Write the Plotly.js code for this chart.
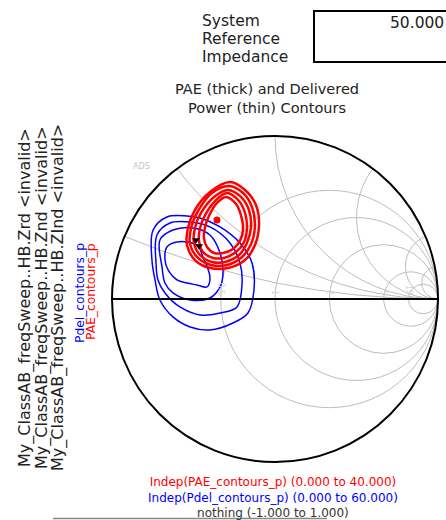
<!DOCTYPE html>
<html><head><meta charset="utf-8">
<script src="https://cdn.plot.ly/plotly-3.0.1.min.js"></script>
<style>html,body{margin:0;padding:0;background:#fff}</style>
</head><body>
<div id="chart" style="width:446px;height:520px"></div>
<script>
const paeLevels = [8, 16, 24, 32, 40];
const pae1_re = [-0.276,-0.184,-0.117,-0.098,-0.123,-0.184,-0.288,-0.399,-0.491,-0.540,-0.534,-0.491,-0.399,-0.276];
const pae1_im = [0.718,0.669,0.577,0.454,0.331,0.239,0.190,0.190,0.239,0.331,0.436,0.546,0.656,0.718];
const pae2_re = [-0.282,-0.196,-0.141,-0.123,-0.147,-0.202,-0.294,-0.393,-0.479,-0.521,-0.515,-0.472,-0.387,-0.282];
const pae2_im = [0.693,0.650,0.564,0.448,0.337,0.258,0.209,0.209,0.258,0.337,0.436,0.540,0.650,0.693];
const pae3_re = [-0.288,-0.209,-0.160,-0.147,-0.172,-0.221,-0.307,-0.387,-0.460,-0.497,-0.491,-0.454,-0.374,-0.288];
const pae3_im = [0.669,0.626,0.546,0.442,0.344,0.270,0.227,0.227,0.270,0.344,0.436,0.528,0.626,0.669];
const pae4_re = [-0.294,-0.221,-0.184,-0.172,-0.190,-0.239,-0.313,-0.380,-0.442,-0.466,-0.460,-0.429,-0.362,-0.294];
const pae4_im = [0.650,0.601,0.528,0.436,0.350,0.288,0.252,0.252,0.288,0.356,0.436,0.515,0.607,0.650];
const pae5_re = [-0.301,-0.239,-0.209,-0.196,-0.215,-0.258,-0.319,-0.374,-0.417,-0.436,-0.429,-0.405,-0.356,-0.301];
const pae5_im = [0.626,0.583,0.515,0.429,0.356,0.307,0.282,0.282,0.319,0.374,0.442,0.509,0.589,0.626];

const pdel1_re = [-0.748,-0.663,-0.540,-0.460,-0.337,-0.215,-0.141,-0.129,-0.166,-0.258,-0.399,-0.521,-0.626,-0.706,-0.736,-0.755,-0.748];
const pdel1_im = [0.423,0.503,0.509,0.497,0.442,0.344,0.221,0.055,-0.086,-0.147,-0.190,-0.172,-0.110,-0.006,0.117,0.239,0.423];
const pdel2_re = [-0.724,-0.644,-0.521,-0.399,-0.276,-0.215,-0.202,-0.233,-0.337,-0.460,-0.583,-0.675,-0.718,-0.730,-0.724];
const pdel2_im = [0.393,0.466,0.472,0.442,0.344,0.221,0.098,-0.049,-0.086,-0.098,-0.049,0.037,0.117,0.221,0.393];
const pdel3_re = [-0.706,-0.626,-0.503,-0.399,-0.337,-0.319,-0.337,-0.399,-0.521,-0.626,-0.675,-0.693,-0.706];
const pdel3_im = [0.362,0.423,0.436,0.393,0.282,0.160,0.074,0.006,-0.006,0.037,0.098,0.196,0.362];
const pdel4_re = [-0.663,-0.601,-0.479,-0.442,-0.399,-0.417,-0.479,-0.540,-0.601,-0.656,-0.675,-0.663];
const pdel4_im = [0.319,0.350,0.331,0.258,0.135,0.074,0.086,0.098,0.117,0.178,0.239,0.319];

const paeMax_re = [-0.356];
const paeMax_im = [0.485];
const marker_re = [-0.466, -0.485];
const marker_im = [0.325, 0.362];

const realTicks = [0.5, 1, 2, 5, 10];
const imagTicks = [0.2, 0.5, 1, 2, 5, 10];

const sideLabels = [
  "My_ClassAB_freqSweep..HB.Zrd <invalid>",
  "My_ClassAB_freqSweep..HB.Znd <invalid>",
  "My_ClassAB_freqSweep..HB.ZInd <invalid>"
];
const indepLabels = [
  "Indep(PAE_contours_p) (0.000 to 40.000)",
  "Indep(Pdel_contours_p) (0.000 to 60.000)",
  "nothing (-1.000 to 1.000)"
];

// Gamma -> normalised impedance
function toZ(re, im) {
  const r = [], x = [];
  for (let i = 0; i < re.length; i++) {
    const g = re[i], h = im[i];
    const d = (1 - g) * (1 - g) + h * h;
    r.push((1 - g * g - h * h) / d);
    x.push(2 * h / d);
  }
  return {r, x};
}

const traces = [];
function addContour(re, im, color, width) {
  const z = toZ(re, im);
  traces.push({type: 'scattersmith', mode: 'lines', real: z.r, imag: z.x,
    line: {color: color, width: width, shape: 'spline'}, hoverinfo: 'skip'});
}
[[pdel1_re,pdel1_im],[pdel2_re,pdel2_im],[pdel3_re,pdel3_im],[pdel4_re,pdel4_im]]
  .forEach(c => addContour(c[0], c[1], '#0000ff', 1.5));
[[pae1_re,pae1_im],[pae2_re,pae2_im],[pae3_re,pae3_im],[pae4_re,pae4_im],[pae5_re,pae5_im]]
  .forEach(c => addContour(c[0], c[1], '#ff0000', 2.5));
const zm = toZ(paeMax_re, paeMax_im);
traces.push({type:'scattersmith', mode:'markers', real: zm.r, imag: zm.x,
  marker:{color:'#ff0000', size:7, symbol:'circle'}});
const zk = toZ(marker_re, marker_im);
traces.push({type:'scattersmith', mode:'markers', real: zk.r, imag: zk.x,
  marker:{color:'#000000', size:7, symbol:'triangle-down'}});

const F = '"DejaVu Sans", Arial, sans-serif';
const W = 446, H = 520;
const px = v => v / W, py = v => 1 - v / H;

const ann = [];
function txt(t, x, y, size, color, xa, extra) {
  ann.push(Object.assign({text: t, x: px(x), y: py(y), xref:'paper', yref:'paper',
    xanchor: xa || 'center', yanchor:'middle', showarrow:false,
    font:{family:F, size:size, color:color}}, extra || {}));
}
txt('System', 200, 21, 15.5, '#222', 'left');
txt('Reference', 200, 39, 15.5, '#222', 'left');
txt('Impedance', 200, 57, 15.5, '#222', 'left');
txt('50.000', 446, 23, 15.5, '#222', 'right');
txt('PAE (thick) and Delivered<br>Power (thin) Contours', 267, 98, 14.5, '#222');
txt('ADS', 141, 166, 8, '#c4c4c4');
txt(sideLabels[0], 25, 298, 16, '#222', 'center', {textangle:-90});
txt(sideLabels[1], 42, 298, 16, '#222', 'center', {textangle:-90});
txt(sideLabels[2], 58, 298, 16, '#222', 'center', {textangle:-90});
txt('Pdel_contours_p', 80, 293, 12.3, '#0000ff', 'center', {textangle:-90});
txt('PAE_contours_p', 91, 292, 12.3, '#ff0000', 'center', {textangle:-90});
txt('<span style="color:#ff0000">' + indepLabels[0] + '</span><br>' +
    '<span style="color:#0000ff">' + indepLabels[1] + '</span><br>' +
    '<span style="color:#333333">' + indepLabels[2] + '</span>',
    273, 497, 12, '#333');

const layout = {
  width: W, height: H,
  margin: {l:0, r:0, t:0, b:0},
  paper_bgcolor: '#fff',
  showlegend: false,
  smith: {
    domain: {x: [px(112), px(438)], y: [py(462), py(136)]},
    bgcolor: '#fff',
    realaxis: {tickvals: realTicks, showgrid: true, gridcolor: '#bdbdbd', gridwidth: 1,
      showline: true, linecolor: '#000', linewidth: 2, ticks: '',
      tickfont: {family: F, size: 8, color: '#d6d6d6'}},
    imaginaryaxis: {tickvals: imagTicks, showgrid: true, gridcolor: '#bdbdbd', gridwidth: 1,
      showline: true, linecolor: '#000', linewidth: 2, ticks: '',
      showticklabels: false}
  },
  annotations: ann,
  shapes: [
    {type:'rect', xref:'paper', yref:'paper', x0: px(314), x1: px(470), y0: py(62), y1: py(11),
      line:{color:'#000', width:2}, fillcolor:'rgba(0,0,0,0)'},
    {type:'line', xref:'paper', yref:'paper', x0: px(53), x1: px(327), y0: py(518.5), y1: py(518.5),
      line:{color:'#888', width:1.5}}
  ]
};
Plotly.newPlot('chart', traces, layout, {staticPlot: true});
</script>
</body></html>
